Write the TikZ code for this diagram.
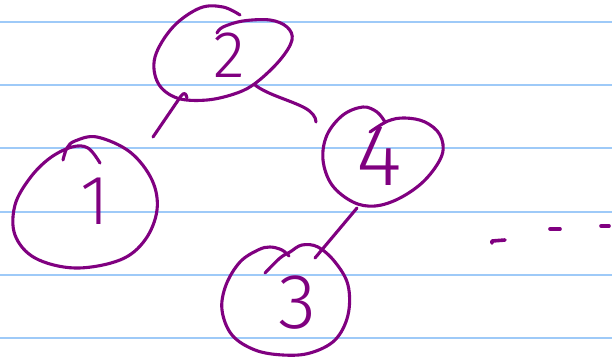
\documentclass[tikz,border=0pt]{standalone}
\usepackage{fontspec}
\newfontfamily\hand{Fira Sans Light}
\definecolor{ink}{RGB}{128,0,128}
\definecolor{rule}{RGB}{158,202,248}
\tikzset{
  pen/.style={draw=ink, line width=3.1pt, line cap=round, line join=round},
  ruleline/.style={draw=rule, line width=1.8pt},
  digit/.style={text=ink, inner sep=0pt, font=\hand},
}
\begin{document}
\begin{tikzpicture}[x=1pt,y=-1pt]
\useasboundingbox (0,0) rectangle (612,359);
\fill[white] (0,0) rectangle (612,359);
% ruled paper
\foreach \yy [count=\i] in {22,85,148,212,275,338}{
  \coordinate (rl\i) at (0,\yy);
  \coordinate (rr\i) at (612,\yy);
  \draw[ruleline] (rl\i) -- (rr\i);
}
% digits
\node[digit, font=\hand\fontsize{66}{66}\selectfont] (n2) at (229,55) {2};
\node[digit, font=\hand\fontsize{70}{70}\selectfont] (n1) at (95,201) {1};
\node[digit, font=\hand\fontsize{88}{88}\selectfont] (n4) at (379,156) {4};
\node[digit, font=\hand\fontsize{78}{78}\selectfont] (n3) at (297,303) {3};
% hand drawn circles
\draw[pen] plot[smooth, tension=0.6] coordinates {(240,15) (223,7) (200,8) (173,27) (155,57) (158,83) (177,98) (207,100) (237,93) (257,82) (280,60) (292,40) (287,27) (270,20) (243,21) (223,27) (217,33)};
\draw[pen] plot[smooth, tension=0.6] coordinates {(63,160) (67,148) (75,141) (97,137) (130,152) (152,180) (157,210) (145,240) (120,260) (75,268) (35,258) (15,235) (15,205) (30,178) (50,158) (72,147) (88,148) (100,163)};
\draw[pen] plot[smooth, tension=0.6] coordinates {(385,122) (377,112) (363,107) (343,115) (327,135) (323,160) (332,185) (353,202) (375,206) (400,198) (425,180) (442,155) (440,135) (425,122) (405,118) (388,121) (370,132)};
\draw[pen] plot[smooth, tension=0.6] coordinates {(265,273) (280,258) (290,252) (302,245) (318,247) (335,262) (348,285) (348,315) (335,340) (310,353) (283,355) (255,350) (232,335) (222,310) (226,285) (240,262) (258,250) (270,247) (282,250) (289,256)};
% connectors
\coordinate (c21a) at (187,98);
\coordinate (c21c) at (153,137);
\draw[pen] (c21a) .. controls (186,93) and (184,92) .. (181,96) -- (c21c);
\coordinate (c24a) at (255,85);
\coordinate (c24b) at (316,122);
\draw[pen] (c24a) .. controls (268,95) and (290,100) .. (305,108) .. controls (312,112) and (316,117) .. (c24b);
\coordinate (c43a) at (357,208);
\coordinate (c43b) at (315,258);
\draw[pen] (c43a) -- (c43b);
% trailing dashes
\coordinate (d1a) at (492,243); \coordinate (d1b) at (505,240);
\coordinate (d2a) at (550,229); \coordinate (d2b) at (560,229);
\coordinate (d3a) at (601,226); \coordinate (d3b) at (609,226);
\draw[pen, line width=3.6pt] (d1a) -- (492,241) -- (d1b);
\draw[pen, line width=3.6pt] (d2a) -- (d2b);
\draw[pen, line width=3.6pt] (d3a) -- (d3b);
\end{tikzpicture}
\end{document}
